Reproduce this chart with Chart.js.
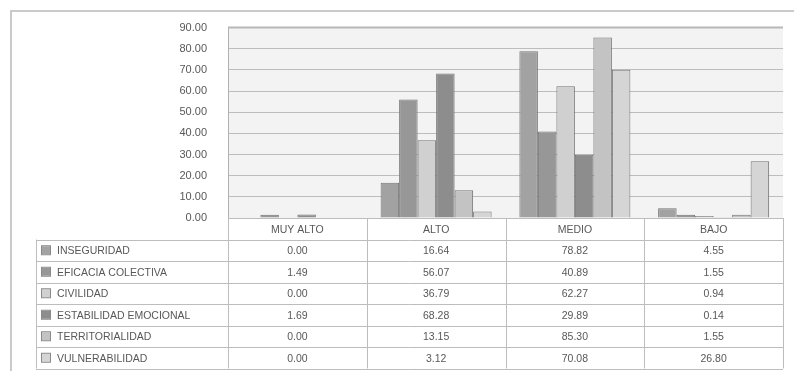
<!DOCTYPE html>
<html>
<head>
<meta charset="utf-8">
<script src="https://cdn.jsdelivr.net/npm/chart.js@4.4.1/dist/chart.umd.min.js"></script>
<style>
  html, body { margin: 0; padding: 0; background: #fff; }
  #chart { display: block; }
</style>
</head>
<body>
<canvas id="chart" width="794" height="371"></canvas>
<script>
// categorias y series
const categorias = ['MUY ALTO', 'ALTO', 'MEDIO', 'BAJO'];
const inseguridad = [0.00, 16.64, 78.82, 4.55];
const eficacia = [1.49, 56.07, 40.89, 1.55];
const civilidad = [0.00, 36.79, 62.27, 0.94];
const estabilidad = [1.69, 68.28, 29.89, 0.14];
const territorialidad = [0.00, 13.15, 85.30, 1.55];
const vulnerabilidad = [0.00, 3.12, 70.08, 26.80];
const yTicks = [0, 10, 20, 30, 40, 50, 60, 70, 80, 90];

const series = [
  { label: 'INSEGURIDAD', data: inseguridad, color: '#a2a2a2' },
  { label: 'EFICACIA COLECTIVA', data: eficacia, color: '#979797' },
  { label: 'CIVILIDAD', data: civilidad, color: '#d0d0d0' },
  { label: 'ESTABILIDAD EMOCIONAL', data: estabilidad, color: '#8d8d8d' },
  { label: 'TERRITORIALIDAD', data: territorialidad, color: '#c3c3c3' },
  { label: 'VULNERABILIDAD', data: vulnerabilidad, color: '#d5d5d5' }
];

const FONT = '"Liberation Sans", Arial, sans-serif';
const TEXT = '#585858';
const LINE = '#bdbdbd';

// marco exterior y fondo del area de trazado
const fondo = {
  id: 'fondo',
  beforeDraw(chart) {
    const { ctx, chartArea: a } = chart;
    ctx.save();
    ctx.strokeStyle = '#cacaca';
    ctx.lineWidth = 2;
    ctx.beginPath();
    ctx.moveTo(11, chart.height + 5);
    ctx.lineTo(11, 11);
    ctx.lineTo(chart.width + 5, 11);
    ctx.stroke();
    ctx.fillStyle = '#f3f3f3';
    ctx.fillRect(a.left, a.top, a.right - a.left, a.bottom - a.top);
    ctx.restore();
  },
  afterDatasetsDraw(chart) {
    // borde superior del area, algo mas marcado
    const { ctx, chartArea: a } = chart;
    ctx.save();
    ctx.strokeStyle = '#b8b8b8';
    ctx.lineWidth = 2;
    ctx.beginPath();
    ctx.moveTo(a.left, a.top);
    ctx.lineTo(a.right, a.top);
    ctx.stroke();
    ctx.restore();
  }
};

// tabla de datos bajo el grafico
const tabla = {
  id: 'tabla',
  afterDraw(chart) {
    const { ctx, chartArea: a } = chart;
    const x = chart.scales.x;
    const rowH = 21.5;
    const legLeft = 36;
    const top = a.bottom;
    const w = x.getPixelForValue(1) - x.getPixelForValue(0);
    const bordes = [a.left];
    categorias.forEach((c, i) => bordes.push(x.getPixelForValue(i) + w / 2));
    const bottom = top + rowH * (series.length + 1);

    ctx.save();
    ctx.strokeStyle = LINE;
    ctx.lineWidth = 1;
    ctx.beginPath();
    for (let r = 0; r <= series.length + 1; r++) {
      const y = Math.round(top + r * rowH) + 0.5;
      ctx.moveTo(r === 0 ? a.left : legLeft, y);
      ctx.lineTo(a.right, y);
    }
    ctx.moveTo(legLeft + 0.5, top + rowH);
    ctx.lineTo(legLeft + 0.5, bottom);
    bordes.forEach(b => {
      ctx.moveTo(Math.round(b) + 0.5, top);
      ctx.lineTo(Math.round(b) + 0.5, bottom);
    });
    ctx.stroke();

    ctx.fillStyle = TEXT;
    ctx.textBaseline = 'middle';
    ctx.textAlign = 'center';
    ctx.font = '10.5px ' + FONT;
    categorias.forEach((c, i) => {
      ctx.fillText(c, x.getPixelForValue(i), top + rowH / 2 + 1);
    });

    series.forEach((s, r) => {
      const yc = top + (r + 1.5) * rowH + 1;
      ctx.fillStyle = s.color;
      ctx.fillRect(42, yc - 5, 8, 8);
      ctx.strokeStyle = '#8a8a8a';
      ctx.strokeRect(41.5, yc - 5.5, 9, 9);
      ctx.fillStyle = TEXT;
      ctx.textAlign = 'left';
      ctx.fillText(s.label, 57, yc);
      ctx.textAlign = 'center';
      s.data.forEach((v, i) => {
        ctx.fillText(v.toFixed(2), x.getPixelForValue(i), yc);
      });
    });
    ctx.restore();
  }
};

new Chart(document.getElementById('chart'), {
  type: 'bar',
  data: {
    labels: categorias,
    datasets: series.map(s => ({
      label: s.label,
      data: s.data,
      backgroundColor: s.color,
      borderColor: '#747474',
      borderWidth: 1,
      categoryPercentage: 0.8,
      barPercentage: 1.0
    }))
  },
  options: {
    responsive: false,
    animation: false,
    layout: { padding: { left: 0, top: 24, right: 11, bottom: 153 } },
    plugins: { legend: { display: false }, tooltip: { enabled: false } },
    scales: {
      x: { display: false },
      y: {
        min: 0,
        max: 90,
        afterFit(axis) { axis.width = 228; },
        afterBuildTicks(axis) { axis.ticks = yTicks.map(v => ({ value: v })); },
        ticks: {
          padding: 21,
          color: TEXT,
          font: { family: FONT, size: 11 },
          callback: v => Number(v).toFixed(2)
        },
        grid: { color: LINE, lineWidth: 1, drawTicks: false },
        border: { display: true, color: '#b0b0b0' }
      }
    }
  },
  plugins: [fondo, tabla]
});
</script>
</body>
</html>
